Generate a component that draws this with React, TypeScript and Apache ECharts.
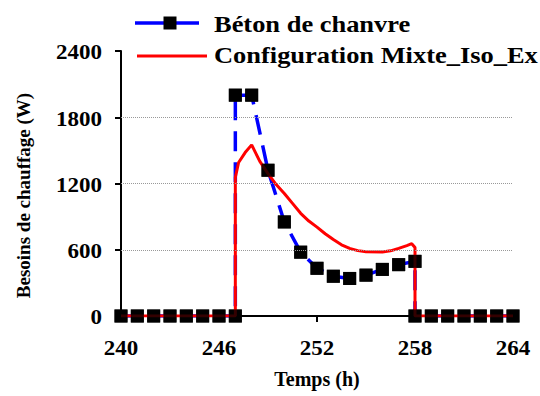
import React, { useEffect, useRef } from "react";
import * as echarts from "echarts";

const seriesNames = ["Béton de chanvre", "Configuration Mixte_Iso_Ex"];

// Béton de chanvre (hourly, with vertical steps at 247 h and 258 h)
const betonHours = [240, 241, 242, 243, 244, 245, 246, 247, 247, 248, 249, 250, 251, 252, 253, 254, 255, 256, 257, 258, 258, 259, 260, 261, 262, 263, 264];
const betonValues = [0, 0, 0, 0, 0, 0, 0, 0, 2000, 2000, 1320, 852, 578, 432, 360, 340, 370, 422, 465, 495, 0, 0, 0, 0, 0, 0, 0];

// Configuration Mixte_Iso_Ex
const mixteHours = [240, 247, 247, 247.2, 247.6, 248, 248.5, 249, 249.5, 250, 250.5, 251, 251.5, 252, 252.5, 253, 253.5, 254, 254.5, 255, 256, 256.5, 257, 257.5, 257.8, 258, 258, 264];
const mixteValues = [0, 0, 1255, 1390, 1480, 1550, 1400, 1290, 1190, 1110, 1020, 930, 860, 805, 745, 692, 645, 612, 592, 582, 580, 590, 613, 638, 655, 620, 0, 0];

const gridValues = [600, 1200, 1800];
const xTicks = [240, 246, 252, 258, 264];
const yTicks = [0, 600, 1200, 1800, 2400];

const xAxisName = "Temps (h)";
const yAxisName = "Besoins de chauffage (W)";

const FONT = "Liberation Serif";

const GRID = { left: 121, right: 27, top: 51, bottom: 80 };
const W = 540;
const H = 396;

function textEl(text: string, x: number, y: number, size: number, align: string, vAlign: string, extra: any = {}) {
  return {
    type: "text",
    x,
    y,
    silent: true,
    ...extra,
    style: {
      text,
      fontFamily: FONT,
      fontWeight: "bold",
      fontSize: size,
      fill: "#000",
      align,
      verticalAlign: vAlign,
      textAlign: align,
      textVerticalAlign: vAlign,
    },
  };
}

export default function App() {
  const ref = useRef<HTMLDivElement>(null);

  useEffect(() => {
    if (!ref.current) return;
    const chart = echarts.init(ref.current, null, { renderer: "svg" });
    const beton = betonHours.map((h, i) => [h, betonValues[i]]);
    const mixte = mixteHours.map((h, i) => [h, mixteValues[i]]);

    chart.setOption({
      animation: false,
      backgroundColor: "#ffffff",
      grid: GRID,
      xAxis: {
        type: "value",
        min: 240,
        max: 264,
        interval: 6,
        axisLine: { show: true, onZero: false, lineStyle: { color: "#000", width: 2 } },
        axisTick: { show: true, inside: false, length: 6, lineStyle: { color: "#000", width: 2 } },
        axisLabel: { show: false },
        splitLine: { show: false },
      },
      yAxis: {
        type: "value",
        min: 0,
        max: 2400,
        interval: 600,
        axisLine: { show: true, lineStyle: { color: "#000", width: 2 } },
        axisTick: { show: true, inside: false, length: 6, lineStyle: { color: "#000", width: 2 } },
        axisLabel: { show: false },
        splitLine: { show: false },
      },
      series: [
        {
          name: seriesNames[0],
          type: "line",
          data: beton,
          z: 2,
          symbol: "rect",
          symbolSize: 13,
          showSymbol: true,
          itemStyle: { color: "#000" },
          lineStyle: { color: "#0000ff", width: 3.5, type: [20, 11] },
          markLine: {
            silent: true,
            symbol: ["none", "none"],
            label: { show: false },
            lineStyle: { color: "#999", type: "dotted", width: 1 },
            data: gridValues.map((v) => ({ yAxis: v })),
          },
        },
        {
          name: seriesNames[1],
          type: "line",
          data: mixte,
          z: 3,
          showSymbol: false,
          symbol: "none",
          itemStyle: { color: "#ff0000" },
          lineStyle: { color: "#ff0000", width: 3 },
        },
        {
          name: "_markers",
          type: "scatter",
          data: beton,
          z: 4,
          symbol: "rect",
          symbolSize: 13,
          itemStyle: { color: "#000" },
        },
      ],
    });

    const plotW = W - GRID.left - GRID.right;
    const plotH = H - GRID.top - GRID.bottom;
    const toX = (v: number) => {
      const p = chart.convertToPixel({ xAxisIndex: 0 }, v) as any;
      return typeof p === "number" && isFinite(p) ? p : GRID.left + ((v - 240) / 24) * plotW;
    };
    const toY = (v: number) => {
      const p = chart.convertToPixel({ yAxisIndex: 0 }, v) as any;
      return typeof p === "number" && isFinite(p) ? p : GRID.top + (1 - v / 2400) * plotH;
    };
    const axisX = toX(240);
    const axisY = toY(0);

    const graphics: any[] = [];
    // y tick labels
    yTicks.forEach((v) => {
      graphics.push(textEl(String(v), axisX - 19, toY(v) + 2, 20, "right", "middle", { scaleX: 1.15 }));
    });
    // x tick labels
    xTicks.forEach((v) => {
      graphics.push(textEl(String(v), toX(v), axisY + 33, 20, "center", "middle", { scaleX: 1.15 }));
    });
    // axis names
    graphics.push(textEl(xAxisName, (toX(240) + toX(264)) / 2, axisY + 63, 20, "center", "middle"));
    graphics.push(
      textEl(yAxisName, 23, (toY(0) + toY(2400)) / 2 + 12, 19, "center", "middle", { rotation: Math.PI / 2 })
    );
    // legend
    graphics.push({
      type: "line",
      silent: true,
      shape: { x1: 135, y1: 23, x2: 199, y2: 23 },
      style: { stroke: "#0000ff", lineWidth: 3.5 },
    });
    graphics.push({
      type: "rect",
      silent: true,
      shape: { x: 163.5, y: 16.5, width: 13, height: 13 },
      style: { fill: "#000" },
    });
    graphics.push(textEl(seriesNames[0], 214, 24, 23, "left", "middle", { scaleX: 1.15 }));
    graphics.push({
      type: "line",
      silent: true,
      shape: { x1: 137, y1: 56, x2: 207, y2: 56 },
      style: { stroke: "#ff0000", lineWidth: 3 },
    });
    graphics.push(textEl(seriesNames[1], 214, 55, 23, "left", "middle", { scaleX: 1.15 }));

    chart.setOption({ graphic: graphics });

    return () => chart.dispose();
  }, []);

  return (
    <div
      ref={ref}
      style={{ position: "absolute", left: 0, top: 0, width: W, height: H }}
    />
  );
}
